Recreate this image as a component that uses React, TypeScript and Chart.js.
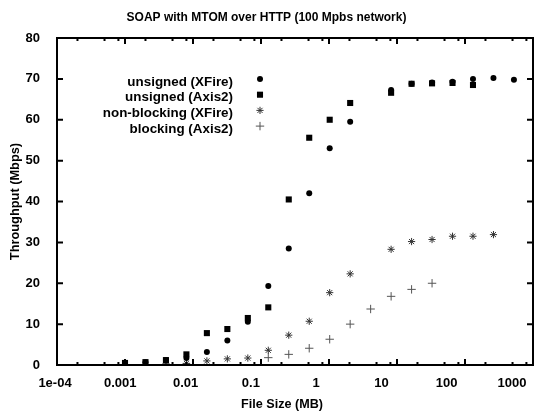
import React, { useEffect, useRef } from 'react';
import { Chart, registerables } from 'chart.js';
import { drawPoint } from 'chart.js/helpers';

Chart.register(...registerables);

const FONT = '"Liberation Sans", Arial, sans-serif';

const chartTitle = 'SOAP with MTOM over HTTP (100 Mpbs network)';
const xAxisTitle = 'File Size (MB)';
const yAxisTitle = 'Throughput (Mbps)';

// File sizes (MB)
const fileSizes = [
  0.001, 0.002, 0.004, 0.008, 0.016, 0.032, 0.064, 0.128, 0.256, 0.512,
  1.024, 2.048, 4.096, 8.192, 16.384, 32.768, 65.536, 131.072, 262.144, 524.288,
];

// Throughput (Mbps), null = no point
const unsignedXFire = [
  0.5, 0.7, 1.2, 1.7, 3.2, 6.0, 10.6, 19.3, 28.5, 42.0,
  53.0, 59.5, null, 67.3, 68.8, 69.1, 69.3, 70.0, 70.2, 69.8,
];
const unsignedAxis2 = [
  0.5, 0.7, 1.2, 2.6, 7.8, 8.8, 11.5, 14.1, 40.5, 55.6,
  60.0, 64.1, null, 66.6, 68.8, 68.9, 69.0, 68.5, null, null,
];
const nonBlockingXFire = [
  null, 0.1, 0.3, 0.4, 1.0, 1.5, 1.7, 3.6, 7.3, 10.7,
  17.7, 22.3, null, 28.3, 30.2, 30.7, 31.5, 31.5, 31.9, null,
];
const blockingAxis2 = [
  null, 0.1, null, 0.2, null, null, null, 1.8, 2.6, 4.1,
  6.3, 10.0, 13.7, 16.8, 18.5, 20.0, null, null, null, null,
];

const seriesLabels = ['unsigned (XFire)', 'unsigned (Axis2)', 'non-blocking (XFire)', 'blocking (Axis2)'];

const xTickValues = [1e-4, 1e-3, 1e-2, 1e-1, 1, 10, 100, 1000];
const xTickLabels = ['1e-04', '0.001', '0.01', '0.1', '1', '10', '100', '1000'];
const xMinorTickValues = [
  2e-4, 5e-4, 8e-4, 2e-3, 5e-3, 8e-3, 2e-2, 5e-2, 8e-2, 0.2, 0.5, 0.8,
  2, 5, 8, 20, 50, 80, 200, 500, 800,
];
const yTickValues = [0, 10, 20, 30, 40, 50, 60, 70, 80];

const toPoints = (vals: (number | null)[]) =>
  fileSizes
    .map((x, i) => ({ x, y: vals[i] }))
    .filter((p) => p.y !== null) as { x: number; y: number }[];

const styles = [
  { pointStyle: 'circle', radius: 3, bg: '#000', border: '#000', bw: 0 },
  { pointStyle: 'rect', radius: 4.3, bg: '#000', border: '#000', bw: 0 },
  { pointStyle: 'star', radius: 3.6, bg: 'rgba(0,0,0,0)', border: '#333', bw: 1 },
  { pointStyle: 'cross', radius: 4.2, bg: 'rgba(0,0,0,0)', border: '#555', bw: 1 },
];

const framePlugin = {
  id: 'gnuplotFrame',
  afterDraw(chart: any) {
    const { ctx, chartArea } = chart;
    const { left, right, top, bottom } = chartArea;
    const xs = chart.scales.x;
    const ys = chart.scales.y;
    ctx.save();
    ctx.strokeStyle = '#000';
    ctx.lineWidth = 2;
    ctx.strokeRect(left, top, right - left, bottom - top);
    ctx.beginPath();
    for (const v of xTickValues) {
      const px = xs.getPixelForValue(v);
      ctx.moveTo(px, bottom); ctx.lineTo(px, bottom - 6);
      ctx.moveTo(px, top); ctx.lineTo(px, top + 6);
    }
    for (const v of xMinorTickValues) {
      const px = xs.getPixelForValue(v);
      ctx.moveTo(px, bottom); ctx.lineTo(px, bottom - 3);
      ctx.moveTo(px, top); ctx.lineTo(px, top + 3);
    }
    for (const v of yTickValues) {
      const py = ys.getPixelForValue(v);
      ctx.moveTo(left, py); ctx.lineTo(left + 6, py);
      ctx.moveTo(right, py); ctx.lineTo(right - 6, py);
    }
    ctx.stroke();

    ctx.fillStyle = '#000';
    ctx.textAlign = 'center';
    ctx.textBaseline = 'middle';
    ctx.font = `bold 13px ${FONT}`;
    xTickValues.forEach((v, i) => {
      const px = xs.getPixelForValue(v);
      ctx.fillText(xTickLabels[i], left - 2 + (px - left) * 0.96, bottom + 18);
    });
    ctx.font = `bold 12.6px ${FONT}`;
    ctx.fillText(xAxisTitle, (left + right) / 2 - 13, bottom + 40);

    // legend
    ctx.font = `bold 13.4px ${FONT}`;
    ctx.textAlign = 'right';
    seriesLabels.forEach((label, i) => {
      const ty = top + 44 + i * 15.7;
      ctx.fillStyle = '#000';
      ctx.fillText(label, left + 176, ty);
      const s = styles[i];
      ctx.fillStyle = s.bg;
      ctx.strokeStyle = s.border;
      ctx.lineWidth = s.bw;
      drawPoint(ctx, { pointStyle: s.pointStyle as any, radius: s.radius, rotation: 0, borderWidth: s.bw }, left + 203, ty - 3);
    });
    ctx.restore();
  },
};

export default function App() {
  const ref = useRef<HTMLCanvasElement | null>(null);
  useEffect(() => {
    if (!ref.current) return;
    const seriesValues = [unsignedXFire, unsignedAxis2, nonBlockingXFire, blockingAxis2];
    const chart = new Chart(ref.current, {
      type: 'scatter',
      data: {
        datasets: seriesValues.map((vals, i) => ({
          label: seriesLabels[i],
          data: toPoints(vals),
          pointStyle: styles[i].pointStyle as any,
          pointRadius: styles[i].radius,
          pointBackgroundColor: styles[i].bg,
          pointBorderColor: styles[i].border,
          pointBorderWidth: styles[i].bw,
          showLine: false,
        })),
      },
      options: {
        animation: false,
        responsive: false,
        devicePixelRatio: 1,
        layout: { padding: { left: 0, right: 14, top: 0, bottom: 0 } },
        plugins: {
          legend: { display: false },
          tooltip: { enabled: false },
          title: {
            display: true,
            text: chartTitle,
            color: '#000',
            font: { family: FONT, size: 12, weight: 'bold', lineHeight: 1.2 },
            padding: { top: 10, bottom: 13.6 },
          },
        },
        scales: {
          x: {
            type: 'logarithmic',
            min: 1e-4,
            max: 1000,
            grid: { display: false },
            border: { display: false },
            ticks: { display: false },
            afterBuildTicks: (scale: any) => {
              scale.ticks = xTickValues.map((v) => ({ value: v }));
            },
            afterFit: (scale: any) => {
              scale.height = 50;
            },
          },
          y: {
            min: 0,
            max: 80,
            grid: { display: false },
            border: { display: false },
            ticks: {
              stepSize: 10,
              color: '#000',
              padding: 9,
              font: { family: FONT, size: 13, weight: 'bold' },
            },
            title: {
              display: true,
              text: yAxisTitle,
              color: '#000',
              font: { family: FONT, size: 12.8, weight: 'bold' },
              padding: { top: 8, bottom: 0 },
            },
            afterFit: (scale: any) => {
              scale.width = 57;
            },
          },
        },
      },
      plugins: [framePlugin],
    });
    return () => chart.destroy();
  }, []);
  return (
    <div style={{ position: 'fixed', left: 0, top: 0, width: 547, height: 415, background: '#fff' }}>
      <canvas ref={ref} width={547} height={415} style={{ width: 547, height: 415 }} />
    </div>
  );
}
